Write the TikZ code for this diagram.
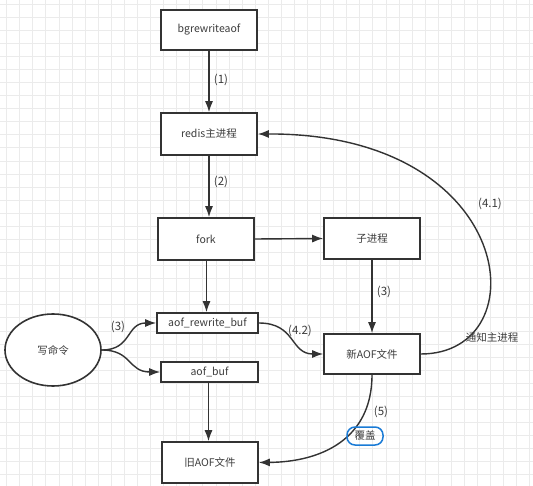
\documentclass[tikz,border=0pt]{standalone}
\usepackage{fontspec}
\setmainfont{Noto Sans CJK SC}
\usetikzlibrary{arrows.meta,shapes.geometric}
\definecolor{ln}{HTML}{333333}
\definecolor{tx}{HTML}{3C3C3C}
\definecolor{gridc}{HTML}{EBEBEB}
\definecolor{hl}{HTML}{1A7BD6}
\begin{document}
\begin{tikzpicture}[x=1pt,y=-1pt,
  every node/.style={font=\fontsize{10.5}{12}\selectfont, text=tx},
  box/.style={draw=ln, line width=1.6pt, fill=white, inner sep=0pt, minimum width=96pt, minimum height=41pt},
  sbox/.style={draw=ln, line width=1.6pt, fill=white, inner sep=0pt, minimum height=20pt},
  lab/.style={inner sep=1pt, font=\fontsize{11.5}{13}\selectfont},
  arr/.style={draw=ln, line width=1.4pt, -{Latex[length=11pt,width=8pt]}}]
\useasboundingbox (0,0) rectangle (533,486);
\fill[white] (0,0) rectangle (533,486);
\foreach \i in {0,...,40} {\draw[gridc, line width=0.9pt] ({6.7+13.08*\i},0) -- ({6.7+13.08*\i},486);}
\foreach \i in {0,...,37} {\draw[gridc, line width=0.9pt] (0,{4+13.08*\i}) -- (533,{4+13.08*\i});}

\node[box, minimum height=40pt] (b) at (209,30) {bgrewriteaof};
\node[box, minimum height=42pt] (r) at (209,134) {redis主进程};
\node[box, minimum height=42pt] (f) at (206,239) {fork};
\node[box] (c) at (372,238.5) {子进程};
\node[box, minimum height=40pt] (n) at (372,354) {新AOF文件};
\node[sbox, minimum width=101pt] (rb) at (207.5,323) {aof\_rewrite\_buf};
\node[sbox, minimum width=97pt] (ab) at (209.5,372) {aof\_buf};
\node[box] (o) at (210,462.5) {旧AOF文件};
\node[ellipse, draw=ln, line width=1.6pt, fill=white, minimum width=96pt, minimum height=72pt, inner sep=0pt] (w) at (53,350) {写命令};

\draw[arr] (b) -- (r);
\draw[arr] (r.south) -- (r.south |- f.north);
\draw[arr] (f.east) -- (c.west);
\draw[arr] ([xshift=0.5pt]f.south) -- ([xshift=0.5pt]f.south |- rb.north);
\draw[arr] (c) -- (n);
\draw[arr] ([xshift=-1pt]ab.south) -- ([xshift=-1pt]ab.south |- o.north);
\draw[arr] (w.east) .. controls (132,350) and (126,323) .. (rb.west);
\draw[arr] (w.east) .. controls (132,350) and (128,372) .. (ab.west);
\draw[arr] (rb.east) .. controls (296,323) and (290,354) .. (n.west);
\draw[arr] (n.east) .. controls (540,354) and (518,133) .. (r.east);
\draw[arr] (n.south) .. controls (372,440) and (320,462) .. (o.east);

\node[lab] (l1) at (221,80) {(1)};
\node[lab] (l2) at (221,182) {(2)};
\node[lab] (l3) at (384,292) {(3)};
\node[lab] (l3b) at (118,327) {(3)};
\node[lab] (l42) at (300,331) {(4.2)};
\node[lab] (l41) at (490,204) {(4.1)};
\node[lab, font=\fontsize{10.5}{12}\selectfont] (tz) at (492,337) {通知主进程};
\node[lab] (l5) at (381,412) {(5)};
\node[lab, font=\fontsize{10.5}{12}\selectfont, draw=hl, line width=1.5pt, rounded corners=8pt, minimum width=36pt, minimum height=18pt, inner sep=0pt] (fg) at (365,436) {覆盖};
\end{tikzpicture}
\end{document}
